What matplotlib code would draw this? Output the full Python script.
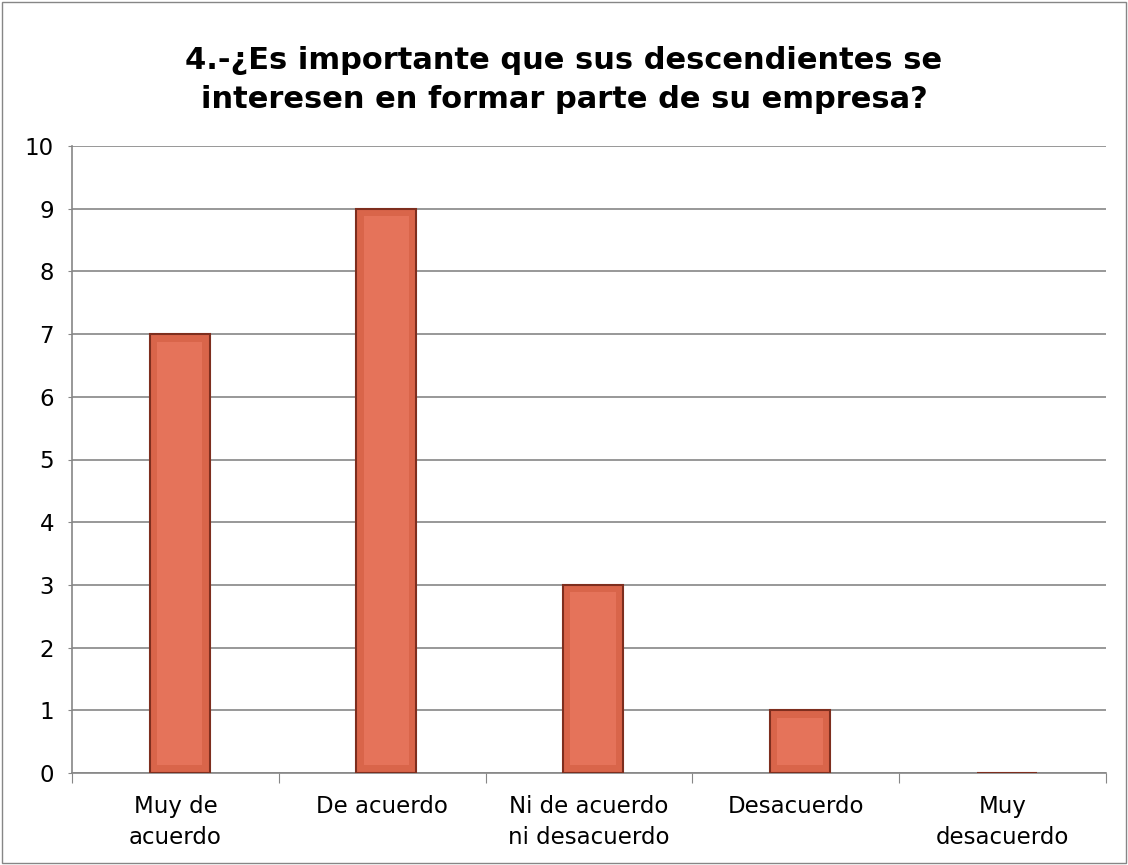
import matplotlib.pyplot as plt
from matplotlib.patches import Rectangle

categorias = ["Muy de\nacuerdo", "De acuerdo", "Ni de acuerdo\nni desacuerdo", "Desacuerdo", "Muy\ndesacuerdo"]
valores = [7, 9, 3, 1, 0]
titulo = "4.-¿Es importante que sus descendientes se\ninteresen en formar parte de su empresa?"

plt.rcParams['font.family'] = ['DejaVu Sans']

fig = plt.figure(figsize=(11.28, 8.65), dpi=100)
ax = fig.add_axes([72 / 1128, 92 / 865, 1034 / 1128, 627 / 865])

x = list(range(len(valores)))
xb = [i + 0.02 for i in x]
bars = ax.bar(xb, valores, width=0.29, color="#D9654A", edgecolor="#7E2E1E",
              linewidth=1.5, zorder=3)
# bisel interior simple
for b in bars:
    if b.get_height() > 0:
        w = b.get_width()
        h = b.get_height()
        ax.add_patch(Rectangle((b.get_x() + w * 0.12, 0.12), w * 0.76, h - 0.24,
                               facecolor="#E5735A", edgecolor="none", zorder=4))

ax.set_xlim(-0.5, len(valores) - 0.5)
ax.set_ylim(0, 10)
ax.set_yticks(range(0, 11))
ax.tick_params(axis="y", labelsize=16.5, length=3, color="#868686", pad=10)
ax.set_xticks([i - 0.5 for i in range(len(valores) + 1)])
ax.set_xticklabels([])
ax.set_xticks(x, minor=True)
ax.set_xticklabels(categorias, minor=True, fontsize=16.5, linespacing=1.45)
ax.tick_params(axis="x", which="major", length=7, color="#868686")
ax.tick_params(axis="x", which="minor", length=0, pad=16)

ax.grid(axis="y", color="#868686", linewidth=1.2, zorder=0)
for s in ["top", "right"]:
    ax.spines[s].set_visible(False)
for s in ["left", "bottom"]:
    ax.spines[s].set_color("#868686")
    ax.spines[s].set_linewidth(1.2)

fig.text(0.5, 1 - 46 / 865, titulo, ha="center", va="top", fontsize=22,
         fontweight="bold", linespacing=1.45)

fig.patches.append(Rectangle((0.002, 0.002), 0.996, 0.996, transform=fig.transFigure,
                             fill=False, edgecolor="#868686", linewidth=1))

plt.savefig("out.png", dpi=100)
